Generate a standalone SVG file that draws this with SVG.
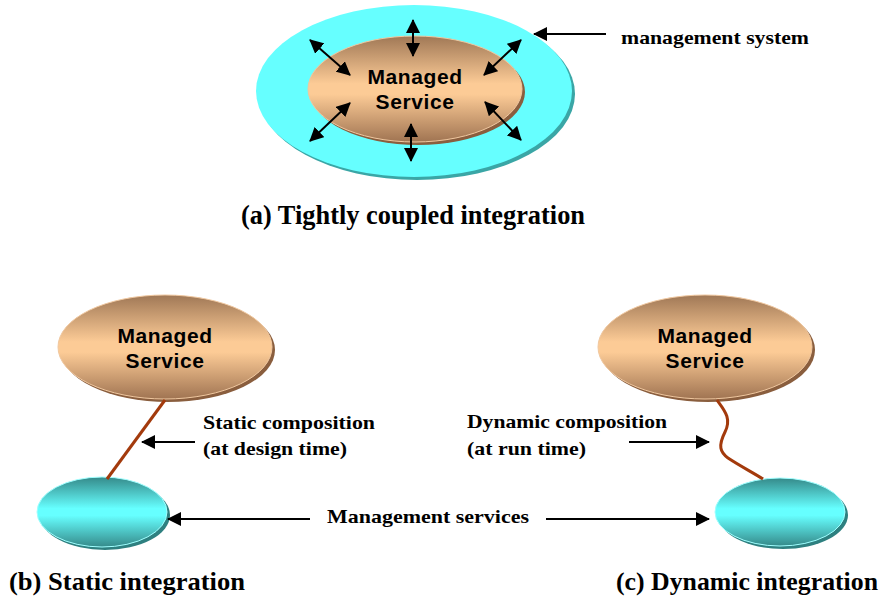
<svg xmlns="http://www.w3.org/2000/svg" width="886" height="602" viewBox="0 0 886 602">
<style>
.sans{font-family:"Liberation Sans",Arial,sans-serif;font-weight:bold;font-size:21px;fill:#000;text-anchor:middle;letter-spacing:0.6px}
.serif{font-family:"Liberation Serif","Times New Roman",serif;font-weight:bold;fill:#000}
.lbl{font-size:19px}
.cap{font-size:28px}
.capb{font-size:26px}
.arr{stroke:#000;stroke-width:2;fill:none}
.link{stroke:#a33a0c;stroke-width:3;fill:none}
</style>
<defs>
<linearGradient id="gPeach" x1="0" y1="0" x2="0" y2="1">
<stop offset="0" stop-color="#a07856"/>
<stop offset="0.45" stop-color="#fccb96"/>
<stop offset="0.55" stop-color="#fccb96"/>
<stop offset="1" stop-color="#a07452"/>
</linearGradient>
<linearGradient id="gCyan" x1="0" y1="0" x2="0" y2="1">
<stop offset="0" stop-color="#358a8a"/>
<stop offset="0.45" stop-color="#66ffff"/>
<stop offset="0.55" stop-color="#66ffff"/>
<stop offset="1" stop-color="#358a8a"/>
</linearGradient>
<marker id="ah" viewBox="0 0 14 14" refX="13" refY="7" markerWidth="14" markerHeight="14" markerUnits="userSpaceOnUse" orient="auto-start-reverse">
<path d="M0,0 L14,7 L0,14 Z" fill="#000"/>
</marker>
</defs>

<g id="management-system">
<ellipse cx="417" cy="94" rx="158" ry="86" fill="#3aa6a6"/>
<ellipse cx="414" cy="91" rx="158" ry="86" fill="#66ffff"/>
</g>
<g id="managed-service-a">
<ellipse cx="418" cy="92" rx="107" ry="53" fill="#8a5e3e"/>
<ellipse cx="415" cy="89" rx="107" ry="53" fill="url(#gPeach)" stroke="#f0c8a0" stroke-width="1"/>
<text class="sans" x="415" y="84">Managed</text>
<text class="sans" x="415" y="109">Service</text>
</g>
<g id="label-management-system">
<text class="serif lbl" x="621" y="44" textLength="188" lengthAdjust="spacingAndGlyphs">management system</text>
</g>
<g id="caption-a">
<text class="serif cap" x="241" y="224" textLength="344" lengthAdjust="spacingAndGlyphs">(a) Tightly coupled integration</text>
</g>

<g id="managed-service-b">
<ellipse cx="168" cy="350" rx="107" ry="52" fill="#8a5e3e"/>
<ellipse cx="165" cy="347" rx="107" ry="52" fill="url(#gPeach)" stroke="#f0c8a0" stroke-width="1"/>
<text class="sans" x="165" y="343">Managed</text>
<text class="sans" x="165" y="368">Service</text>
</g>
<g id="mgmt-service-b">
<ellipse cx="105" cy="515" rx="65" ry="35" fill="#2e8080"/>
<ellipse cx="102" cy="512" rx="65" ry="35" fill="url(#gCyan)" stroke="#a0ffff" stroke-width="1"/>
</g>
<g id="label-static">
<text class="serif lbl" x="203" y="429" textLength="172" lengthAdjust="spacingAndGlyphs">Static composition</text>
<text class="serif lbl" x="203" y="455" textLength="144" lengthAdjust="spacingAndGlyphs">(at design time)</text>
</g>
<g id="caption-b">
<text class="serif capb" x="9" y="590" textLength="236" lengthAdjust="spacingAndGlyphs">(b) Static integration</text>
</g>

<g id="managed-service-c">
<ellipse cx="708" cy="350" rx="107" ry="52" fill="#8a5e3e"/>
<ellipse cx="705" cy="347" rx="107" ry="52" fill="url(#gPeach)" stroke="#f0c8a0" stroke-width="1"/>
<text class="sans" x="705" y="343">Managed</text>
<text class="sans" x="705" y="368">Service</text>
</g>
<g id="mgmt-service-c">
<ellipse cx="783" cy="515" rx="65" ry="34" fill="#2e8080"/>
<ellipse cx="780" cy="512" rx="65" ry="34" fill="url(#gCyan)" stroke="#a0ffff" stroke-width="1"/>
</g>
<g id="label-dynamic">
<text class="serif lbl" x="467" y="428" textLength="200" lengthAdjust="spacingAndGlyphs">Dynamic composition</text>
<text class="serif lbl" x="467" y="455" textLength="119" lengthAdjust="spacingAndGlyphs">(at run time)</text>
</g>
<g id="label-mgmt-services">
<text class="serif lbl" x="327" y="523" textLength="202" lengthAdjust="spacingAndGlyphs">Management services</text>
</g>
<g id="caption-c">
<text class="serif capb" x="616" y="590" textLength="262" lengthAdjust="spacingAndGlyphs">(c) Dynamic integration</text>
</g>

<g id="connectors">
<line class="arr" x1="413" y1="20" x2="413" y2="56" marker-start="url(#ah)" marker-end="url(#ah)"/>
<line class="arr" x1="411" y1="124" x2="411" y2="161" marker-start="url(#ah)" marker-end="url(#ah)"/>
<line class="arr" x1="310" y1="40" x2="350" y2="75" marker-start="url(#ah)" marker-end="url(#ah)"/>
<line class="arr" x1="310" y1="141" x2="350" y2="103" marker-start="url(#ah)" marker-end="url(#ah)"/>
<line class="arr" x1="521" y1="40" x2="484" y2="75" marker-start="url(#ah)" marker-end="url(#ah)"/>
<line class="arr" x1="521" y1="140" x2="485" y2="102" marker-start="url(#ah)" marker-end="url(#ah)"/>
<line class="arr" x1="606" y1="34" x2="534" y2="34" marker-end="url(#ah)"/>
<line class="link" x1="165" y1="400" x2="107" y2="479"/>
<path class="link" d="M717,400 C724,410 732,418 725,432 C718,446 720,452 728,458 C740,466 752,472 763,479"/>
<line class="arr" x1="195" y1="442" x2="142" y2="442" marker-end="url(#ah)"/>
<line class="arr" x1="629" y1="442" x2="709" y2="442" marker-end="url(#ah)"/>
<line class="arr" x1="310" y1="519" x2="168" y2="519" marker-end="url(#ah)"/>
<line class="arr" x1="546" y1="519" x2="709" y2="519" marker-end="url(#ah)"/>
</g>
</svg>
